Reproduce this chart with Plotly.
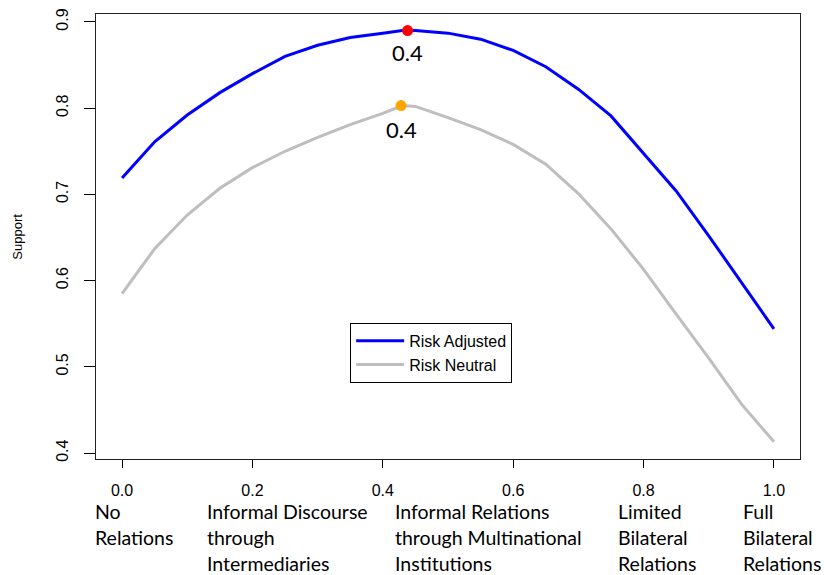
import plotly.graph_objects as go

# share of relations (x) and support for each curve
x_vals = [0.0, 0.05, 0.10, 0.15, 0.20, 0.25, 0.30, 0.35, 0.40, 0.43, 0.45, 0.50,
          0.55, 0.60, 0.65, 0.70, 0.75, 0.80, 0.85, 0.90, 0.95, 1.0]
risk_adjusted = [0.719, 0.761, 0.792, 0.818, 0.840, 0.860, 0.873, 0.882, 0.887, 0.890, 0.890, 0.887,
                 0.880, 0.867, 0.848, 0.822, 0.791, 0.748, 0.704, 0.652, 0.598, 0.544]
risk_neutral = [0.585, 0.637, 0.676, 0.707, 0.731, 0.750, 0.766, 0.781, 0.794, 0.803, 0.802, 0.789,
                0.775, 0.758, 0.735, 0.701, 0.660, 0.613, 0.561, 0.510, 0.457, 0.413]

# optimum points
opt_adjusted = (0.438, 0.890)
opt_neutral = (0.428, 0.803)
opt_label = "0.4"

x_ticks = [0.0, 0.2, 0.4, 0.6, 0.8, 1.0]
y_ticks = [0.4, 0.5, 0.6, 0.7, 0.8, 0.9]

categories = ["No\nRelations",
              "Informal Discourse\nthrough\nIntermediaries",
              "Informal Relations\nthrough Multinational\nInstitutions",
              "Limited\nBilateral\nRelations",
              "Full\nBilateral\nRelations"]
# left edge of each label, as a fraction of the plot width
category_pos = [-0.004, 0.155, 0.422, 0.739, 0.916]

fig = go.Figure()
fig.add_trace(go.Scatter(x=x_vals, y=risk_adjusted, mode="lines", name="Risk Adjusted",
                         line=dict(color="#0000FF", width=3)))
fig.add_trace(go.Scatter(x=x_vals, y=risk_neutral, mode="lines", name="Risk Neutral",
                         line=dict(color="#BEBEBE", width=3)))
fig.add_trace(go.Scatter(x=[opt_adjusted[0]], y=[opt_adjusted[1]], mode="markers", showlegend=False,
                         marker=dict(color="#FF0000", size=11)))
fig.add_trace(go.Scatter(x=[opt_neutral[0]], y=[opt_neutral[1]], mode="markers", showlegend=False,
                         marker=dict(color="#FFA500", size=11)))

annotations = []
for pt, shift in [(opt_adjusted, -22), (opt_neutral, -24)]:
    annotations.append(dict(x=pt[0], y=pt[1], xref="x", yref="y", text=opt_label, showarrow=False,
                            yshift=shift, font=dict(family="Lato", size=22, color="black")))

for cat, cx in zip(categories, category_pos):
    for i, line in enumerate(cat.split("\n")):
        annotations.append(dict(x=cx, y=0, xref="paper", yref="paper", text=line, showarrow=False,
                                xanchor="left", yanchor="middle", yshift=-52 - 26 * i,
                                font=dict(family="Lato", size=19.5, color="black")))

annotations.append(dict(x=-0.112, y=0.5, xref="paper", yref="paper", text="Support", showarrow=False,
                        xanchor="center", textangle=-90,
                        font=dict(family="Liberation Sans", size=13, color="black")))

fig.update_layout(
    width=825, height=575,
    margin=dict(l=96, r=25, t=8, b=116),
    plot_bgcolor="white", paper_bgcolor="white",
    font=dict(family="Liberation Sans", color="black"),
    showlegend=True,
    legend=dict(x=0.361, y=0.306, xanchor="left", yanchor="top",
                bordercolor="black", borderwidth=1, bgcolor="white",
                itemwidth=48,
                font=dict(family="Liberation Sans", size=16), tracegroupgap=0),
    annotations=annotations,
)
fig.update_xaxes(range=[-0.04, 1.04], tickvals=x_ticks, ticktext=["%.1f" % v for v in x_ticks],
                 showgrid=False, zeroline=False, showline=True, mirror=True, linecolor="#222",
                 linewidth=1, ticks="outside", ticklen=8, tickcolor="black",
                 ticklabelstandoff=9, tickfont=dict(size=16))
fig.update_yaxes(range=[0.3931, 0.9092], tickvals=y_ticks, ticktext=["%.1f" % v for v in y_ticks],
                 showgrid=False, zeroline=False, showline=True, mirror=True, linecolor="#222",
                 linewidth=1, ticks="outside", ticklen=11, tickcolor="black", tickangle=-90,
                 ticklabelstandoff=10, tickfont=dict(size=16))

fig.write_html("out.html", config={"displayModeBar": False},
               post_script="document.body.style.margin='0';")
